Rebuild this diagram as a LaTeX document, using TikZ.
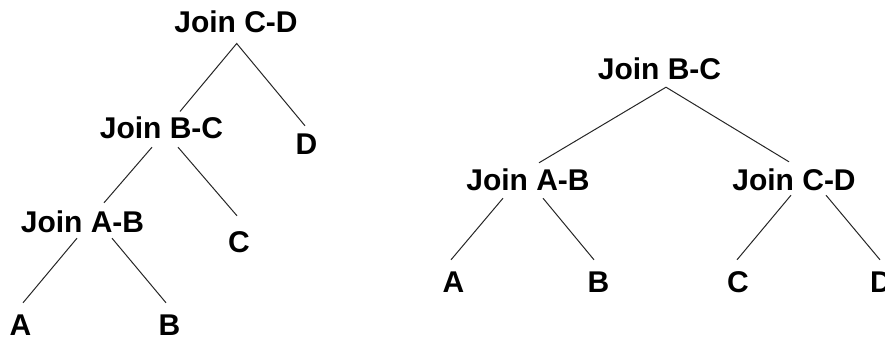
\documentclass[tikz,border=0pt]{standalone}
\usepackage{fontspec}
\setmainfont{Liberation Sans}
\begin{document}
\begin{tikzpicture}[x=1pt,y=-1pt,
  lbl/.style={anchor=base,inner sep=0pt,text height=21.5pt,text depth=0pt,
    font=\fontsize{30}{36}\selectfont\bfseries},
  edge/.style={line width=1pt,draw=black!85}]
\useasboundingbox (0,0) rectangle (885,339);
% left tree
\node[lbl] (lcd) at (236,33) {Join C-D};
\node[lbl] (lbc) at (161.5,139) {Join B-C};
\node[lbl] (ld) at (306.5,155) {D};
\node[lbl] (lab) at (82.5,232) {Join A-B};
\node[lbl] (lc) at (239,252) {C};
\node[lbl] (la) at (20.5,335) {A};
\node[lbl] (lb) at (169.5,335) {B};
\draw[edge] ([shift={(18.5,-5.8)}]lbc.north) -- ([shift={(0.7,10.3)}]lcd.south) -- ([shift={(-1.5,-7.5)}]ld.north);
\draw[edge] ([shift={(-9.5,8)}]lbc.south) -- ([shift={(21.5,-7.5)}]lab.north);
\draw[edge] ([shift={(16.5,8)}]lbc.south) -- ([shift={(-2,-14.5)}]lc.north);
\draw[edge] ([shift={(-5.5,6)}]lab.south) -- ([shift={(2.5,-10.5)}]la.north);
\draw[edge] ([shift={(29.5,6)}]lab.south) -- ([shift={(-3.5,-10.5)}]lb.north);
% right tree
\node[lbl] (rbc) at (659.5,80) {Join B-C};
\node[lbl] (rab) at (528,190) {Join A-B};
\node[lbl] (rcd) at (794,190) {Join C-D};
\node[lbl] (ra) at (453.5,292) {A};
\node[lbl] (rb) at (598.5,292) {B};
\node[lbl] (rc) at (738,292) {C};
\node[lbl] (rd) at (881,292) {D};
\draw[edge] ([shift={(11,-5.5)}]rab.north) -- ([shift={(6.5,7)}]rbc.south) -- ([shift={(-5,-6.5)}]rcd.north);
\draw[edge] ([shift={(-25,8)}]rab.south) -- ([shift={(-2.5,-10.5)}]ra.north);
\draw[edge] ([shift={(15,8)}]rab.south) -- ([shift={(-4.5,-10.5)}]rb.north);
\draw[edge] ([shift={(-3,5)}]rcd.south) -- ([shift={(-1,-10.5)}]rc.north);
\draw[edge] ([shift={(32,5)}]rcd.south) -- ([shift={(-1,-10.5)}]rd.north);
\end{tikzpicture}
\end{document}
